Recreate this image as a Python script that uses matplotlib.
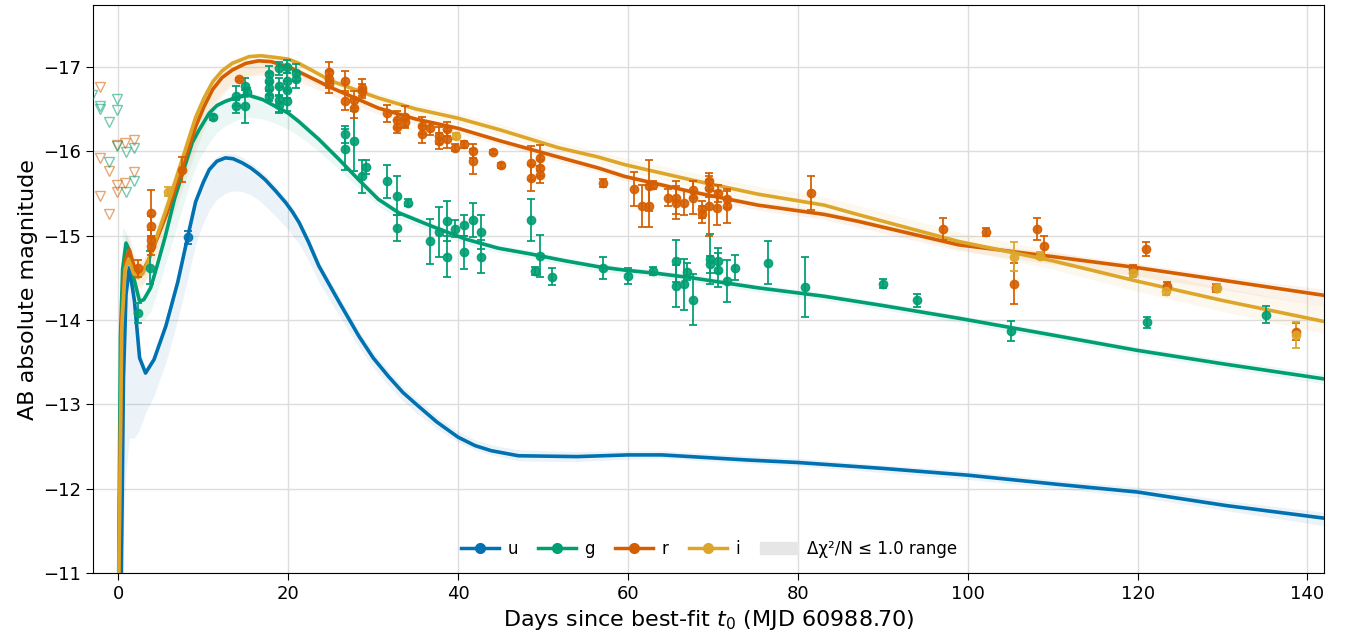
import matplotlib
matplotlib.use("Agg")
import matplotlib.pyplot as plt
from matplotlib.lines import Line2D
from matplotlib.patches import Patch
import numpy as np

# --------------------------------------------------
# COLOURS
# --------------------------------------------------
c_u = '#0072B2'
c_g = '#009E73'
c_r = '#D55E00'
c_i = '#DDA62A'

# --------------------------------------------------
# MODEL CURVES (best fit) and Δχ²/N <= 1 range edges
# --------------------------------------------------
days_u = [0.3, 0.6, 0.9, 1.3, 1.9, 2.5, 3.2, 4.2, 5.6, 7.0, 8.2, 9.1, 10.0, 10.7, 11.6,
          12.6, 13.5, 14.6, 15.6, 16.5, 17.3, 18.5, 19.7, 20.5, 21.3, 22.4, 23.6, 26.0,
          28.3, 30.0, 31.8, 33.5, 35.3, 37.5, 40.0, 42.0, 43.9, 47.1, 54.0, 60.0, 64.0,
          74.0, 80.0, 90.0, 100.0, 110.7, 120.0, 130.4, 142.0]
mag_u = [-10.5, -13.3, -14.3, -14.62, -14.22, -13.55, -13.37, -13.53, -13.93, -14.45,
         -15.0, -15.40, -15.63, -15.78, -15.88, -15.92, -15.91, -15.86, -15.80, -15.73,
         -15.66, -15.53, -15.39, -15.28, -15.15, -14.92, -14.64, -14.21, -13.81, -13.55,
         -13.33, -13.14, -12.98, -12.79, -12.61, -12.51, -12.45, -12.39, -12.38, -12.40,
         -12.40, -12.34, -12.31, -12.24, -12.16, -12.05, -11.96, -11.80, -11.65]
lo_u = [-12.0, -14.5, -15.0, -14.8, -14.3, -13.6, -13.42, -13.6, -14.0, -14.55, -15.1,
        -15.45, -15.7, -15.85, -15.94, -15.98, -15.97, -15.93, -15.86, -15.79, -15.72,
        -15.59, -15.45, -15.33, -15.2, -14.98, -14.7, -14.28, -13.88, -13.62, -13.4,
        -13.21, -13.05, -12.86, -12.68, -12.58, -12.52, -12.46, -12.44, -12.45, -12.45,
        -12.39, -12.36, -12.28, -12.21, -12.10, -12.02, -11.86, -11.72]
hi_u = [-11.0, -11.5, -12.2, -12.6, -12.6, -12.7, -12.9, -13.1, -13.5, -14.0, -14.5,
        -14.9, -15.15, -15.3, -15.43, -15.5, -15.53, -15.52, -15.48, -15.42, -15.35,
        -15.23, -15.1, -15.0, -14.9, -14.7, -14.45, -14.05, -13.68, -13.44, -13.22,
        -13.04, -12.88, -12.71, -12.55, -12.46, -12.40, -12.33, -12.32, -12.35, -12.36,
        -12.30, -12.27, -12.19, -12.11, -12.0, -11.9, -11.74, -11.56]

days_g = [0.0, 0.25, 0.5, 0.9, 1.3, 1.8, 2.5, 3.0, 3.8, 4.5, 5.5, 6.6, 7.6, 8.7, 9.5,
          10.7, 11.6, 12.6, 14.0, 15.4, 17.0, 18.5, 20.0, 21.25, 23.6, 26.0, 28.3, 30.6,
          33.0, 36.9, 40.8, 44.7, 48.6, 52.6, 56.5, 59.6, 63.5, 67.4, 75.3, 83.1,
          90.0, 98.9, 110.0, 119.9, 130.0, 142.0]
mag_g = [-10.5, -13.8, -14.6, -14.91, -14.82, -14.5, -14.22, -14.24, -14.38, -14.62,
         -14.98, -15.43, -15.75, -16.1, -16.25, -16.45, -16.54, -16.59, -16.64, -16.66,
         -16.61, -16.53, -16.45, -16.35, -16.14, -15.9, -15.66, -15.43, -15.27, -15.11,
         -14.96, -14.85, -14.78, -14.70, -14.63, -14.59, -14.55, -14.50, -14.38, -14.28,
         -14.17, -14.02, -13.82, -13.64, -13.48, -13.30]
lo_g = [-11.2, -14.3, -15.1, -15.05, -14.9, -14.6, -14.3, -14.3, -14.45, -14.7, -15.05,
        -15.5, -15.82, -16.15, -16.3, -16.5, -16.58, -16.63, -16.68, -16.7, -16.65,
        -16.57, -16.49, -16.39, -16.18, -15.94, -15.7, -15.47, -15.31, -15.15, -15.0,
        -14.89, -14.82, -14.74, -14.67, -14.63, -14.59, -14.54, -14.42, -14.32, -14.21,
        -14.06, -13.86, -13.68, -13.53, -13.36]
hi_g = [-11.0, -13.3, -14.2, -14.5, -14.4, -14.2, -14.0, -14.0, -14.1, -14.3, -14.65,
        -15.0, -15.35, -15.7, -15.9, -16.1, -16.22, -16.3, -16.37, -16.4, -16.38,
        -16.33, -16.26, -16.18, -16.0, -15.78, -15.56, -15.35, -15.2, -15.05, -14.9,
        -14.8, -14.73, -14.65, -14.58, -14.54, -14.5, -14.45, -14.33, -14.23, -14.12,
        -13.97, -13.77, -13.59, -13.43, -13.24]

days_r = [0.0, 0.4, 0.8, 1.3, 1.8, 2.3, 2.9, 3.6, 4.5, 5.6, 7.2, 9.1, 10.1, 11.1, 12.2,
          13.4, 15.0, 16.5, 18.0, 20.0, 21.25, 25.1, 30.6, 35.0, 40.0, 45.0, 51.8, 56.5,
          59.6, 67.4, 75.3, 83.1, 87.0, 98.9, 110.0, 119.9, 130.0, 142.0]
mag_r = [-10.5, -14.0, -14.7, -14.83, -14.65, -14.55, -14.58, -14.72, -14.95, -15.23,
         -15.70, -16.29, -16.53, -16.73, -16.87, -16.96, -17.04, -17.07, -17.06, -17.0,
         -16.94, -16.75, -16.51, -16.38, -16.27, -16.12, -15.93, -15.80, -15.70, -15.52,
         -15.36, -15.25, -15.17, -14.89, -14.75, -14.62, -14.47, -14.29]
lo_r = [-11.2, -14.4, -15.0, -15.0, -14.8, -14.7, -14.7, -14.85, -15.08, -15.35, -15.8,
        -16.37, -16.6, -16.8, -16.93, -17.0, -17.07, -17.1, -17.09, -17.03, -16.97,
        -16.78, -16.54, -16.41, -16.3, -16.15, -15.97, -15.84, -15.74, -15.56, -15.4,
        -15.29, -15.21, -14.93, -14.8, -14.67, -14.52, -14.36]
hi_r = [-11.0, -13.5, -14.3, -14.5, -14.4, -14.4, -14.42, -14.55, -14.75, -15.0, -15.45,
        -16.0, -16.27, -16.5, -16.66, -16.78, -16.87, -16.9, -16.9, -16.86, -16.82,
        -16.66, -16.44, -16.32, -16.21, -16.07, -15.88, -15.75, -15.65, -15.47, -15.3,
        -15.19, -15.1, -14.82, -14.66, -14.52, -14.36, -14.16]

days_i = [0.0, 0.4, 0.8, 1.2, 1.8, 2.3, 2.9, 3.6, 4.5, 5.6, 7.2, 9.1, 10.1, 11.1, 12.2,
          13.4, 15.4, 16.8, 18.5, 20.0, 21.25, 25.1, 30.6, 35.0, 40.0, 45.0, 51.8, 56.5,
          59.6, 67.4, 75.3, 83.1, 87.0, 98.9, 110.0, 119.9, 130.0, 142.0]
mag_i = [-10.5, -13.9, -14.6, -14.72, -14.55, -14.5, -14.55, -14.72, -14.98, -15.3,
         -15.8, -16.4, -16.63, -16.82, -16.95, -17.04, -17.12, -17.13, -17.11, -17.09,
         -17.04, -16.83, -16.63, -16.5, -16.39, -16.25, -16.04, -15.93, -15.84, -15.66,
         -15.49, -15.36, -15.25, -14.93, -14.70, -14.46, -14.23, -13.98]
lo_i = [-11.2, -14.3, -14.9, -14.95, -14.75, -14.65, -14.7, -14.88, -15.12, -15.45,
        -15.92, -16.5, -16.7, -16.88, -17.0, -17.08, -17.15, -17.16, -17.14, -17.12,
        -17.08, -16.88, -16.68, -16.56, -16.45, -16.32, -16.11, -16.0, -15.92, -15.75,
        -15.58, -15.46, -15.36, -15.04, -14.82, -14.6, -14.38, -14.16]
hi_i = [-11.0, -13.4, -14.2, -14.45, -14.35, -14.35, -14.4, -14.55, -14.8, -15.1,
        -15.55, -16.1, -16.35, -16.55, -16.7, -16.8, -16.9, -16.93, -16.93, -16.92,
        -16.88, -16.72, -16.53, -16.42, -16.32, -16.18, -15.97, -15.86, -15.77, -15.58,
        -15.4, -15.27, -15.16, -14.84, -14.6, -14.34, -14.1, -13.84]

# --------------------------------------------------
# PHOTOMETRY (days, mag, err)
# --------------------------------------------------
t_u = [8.2]
m_u = [-14.98]
e_u = [0.075]

t_g = [2.27, 3.76, 11.2, 13.8, 13.8, 14.9, 14.9, 15.2, 17.7, 17.7, 17.7, 17.7,
       18.9, 18.9, 18.9, 18.9, 19.9, 19.9, 19.9, 19.9, 20.9, 20.9, 26.7, 26.7,
       27.7, 28.7, 29.1, 31.6, 32.8, 32.8, 34.1, 36.7, 37.8, 38.7, 38.7, 39.6,
       40.7, 40.7, 41.7, 42.7, 42.7, 48.6, 49.0, 49.6, 51.1, 57.1, 60.0, 62.9,
       65.6, 65.6, 66.65, 66.9, 67.6, 69.6, 69.6, 70.6, 70.6, 71.6, 72.6, 76.5,
       80.8, 90.0, 94.0, 105.1, 121.1, 135.1]
m_g = [-14.08, -14.62, -16.40, -16.65, -16.53, -16.77, -16.53, -16.70, -16.91, -16.83,
       -16.75, -16.65, -16.98, -16.77, -16.61, -16.55, -17.0, -16.83, -16.73, -16.59,
       -16.93, -16.85, -16.02, -16.20, -16.12, -15.70, -15.81, -15.64, -15.47, -15.09,
       -15.39, -14.93, -15.04, -15.17, -14.75, -15.08, -15.12, -14.80, -15.18, -15.04,
       -14.75, -15.18, -14.58, -14.76, -14.51, -14.62, -14.52, -14.58, -14.70, -14.40,
       -14.42, -14.57, -14.24, -14.72, -14.66, -14.70, -14.59, -14.46, -14.62, -14.68,
       -14.39, -14.43, -14.23, -13.87, -13.97, -14.06]
e_g = [0.12, 0.2, 0.03, 0.12, 0.08, 0.1, 0.2, 0.05, 0.1, 0.1, 0.08, 0.06,
       0.08, 0.1, 0.15, 0.1, 0.08, 0.1, 0.1, 0.12, 0.1, 0.1, 0.24, 0.1,
       0.36, 0.2, 0.08, 0.2, 0.23, 0.15, 0.04, 0.27, 0.3, 0.24, 0.24, 0.1,
       0.12, 0.2, 0.2, 0.2, 0.2, 0.25, 0.05, 0.25, 0.1, 0.13, 0.1, 0.05,
       0.25, 0.25, 0.3, 0.1, 0.3, 0.3, 0.1, 0.15, 0.2, 0.25, 0.15, 0.25,
       0.36, 0.05, 0.08, 0.12, 0.07, 0.1]

t_r = [2.27, 3.8, 3.8, 3.8, 3.8, 7.5, 14.2, 24.8, 24.8, 24.8, 26.65, 26.65, 27.7,
       27.7, 28.7, 28.7, 31.6, 32.8, 32.8, 33.8, 33.8, 35.7, 35.7, 36.7, 37.7, 37.7,
       38.7, 38.7, 39.6, 40.7, 41.7, 41.7, 44.1, 45.0, 48.6, 48.6, 49.7, 49.7, 49.7,
       57.1, 60.7, 61.7, 62.5, 62.5, 62.9, 64.7, 65.6, 65.6, 66.65, 67.6, 67.6, 68.7,
       68.7, 69.5, 69.5, 69.5, 70.5, 70.6, 71.7, 71.7, 81.6, 97.1, 102.1, 105.4,
       108.1, 109.0, 119.4, 121.0, 123.5, 129.2, 138.6]
m_r = [-14.61, -15.27, -15.11, -14.95, -14.87, -15.78, -16.85, -16.94, -16.85, -16.79,
       -16.83, -16.59, -16.61, -16.51, -16.75, -16.71, -16.45, -16.37, -16.29, -16.41,
       -16.35, -16.30, -16.20, -16.27, -16.18, -16.12, -16.26, -16.14, -16.04, -16.08,
       -16.00, -15.88, -15.99, -15.83, -15.86, -15.68, -15.92, -15.80, -15.72, -15.62,
       -15.55, -15.35, -15.59, -15.35, -15.60, -15.45, -15.45, -15.39, -15.39, -15.54,
       -15.45, -15.31, -15.25, -15.64, -15.56, -15.35, -15.33, -15.50, -15.43, -15.35,
       -15.50, -15.08, -15.04, -14.43, -15.08, -14.88, -14.60, -14.84, -14.40, -14.38,
       -13.86]
e_r = [0.1, 0.27, 0.12, 0.12, 0.1, 0.15, 0.02, 0.12, 0.1, 0.1, 0.12, 0.1, 0.1,
       0.12, 0.1, 0.08, 0.1, 0.1, 0.08, 0.12, 0.08, 0.1, 0.1, 0.08, 0.1, 0.1,
       0.08, 0.1, 0.04, 0.04, 0.08, 0.15, 0.02, 0.03, 0.2, 0.15, 0.15, 0.1, 0.1,
       0.05, 0.2, 0.25, 0.3, 0.25, 0.05, 0.1, 0.2, 0.2, 0.15, 0.1, 0.2, 0.1,
       0.1, 0.1, 0.1, 0.35, 0.2, 0.1, 0.1, 0.2, 0.2, 0.13, 0.05, 0.24,
       0.13, 0.12, 0.05, 0.08, 0.05, 0.05, 0.1]

t_i = [5.9, 39.7, 105.4, 108.5, 119.4, 123.4, 129.3, 138.6]
m_i = [-15.52, -16.18, -14.75, -14.76, -14.56, -14.34, -14.38, -13.82]
e_i = [0.05, 0.04, 0.17, 0.04, 0.05, 0.05, 0.05, 0.15]

# upper limits (non-detections)
lim_t_g = [-3.09, -2.15, -2.15, -1.14, -1.14, -0.2, -0.2, -0.2, 0.9, 0.9, 1.84, 1.84]
lim_m_g = [-16.66, -16.54, -16.50, -16.34, -15.87, -16.62, -16.49, -16.06, -15.99,
           -15.52, -16.04, -15.64]
lim_t_r = [-2.15, -2.15, -2.15, -1.14, -1.14, -0.2, -0.2, -0.2, 0.82, 0.82, 1.84, 1.84]
lim_m_r = [-16.76, -15.92, -15.47, -15.76, -15.25, -16.07, -15.60, -15.51, -16.10,
           -15.62, -16.13, -15.75]

# --------------------------------------------------
# PLOT
# --------------------------------------------------
fig = plt.figure(figsize=(13.46, 6.41), dpi=100)
ax = fig.add_axes([0.069, 0.106, 0.915, 0.886])

models = [
    (days_u, mag_u, lo_u, hi_u, c_u),
    (days_g, mag_g, lo_g, hi_g, c_g),
    (days_r, mag_r, lo_r, hi_r, c_r),
    (days_i, mag_i, lo_i, hi_i, c_i),
]

for d, m, lo, hi, c in models:
    ax.fill_between(d, lo, hi, color=c, alpha=0.08, lw=0, zorder=2)
for d, m, lo, hi, c in models:
    ax.plot(d, m, color=c, lw=2.6, zorder=3, solid_joinstyle='round')

ax.plot(lim_t_r, lim_m_r, 'v', mfc='none', mec=c_r, ms=7.5, mew=1.0, alpha=0.55, zorder=4)
ax.plot(lim_t_g, lim_m_g, 'v', mfc='none', mec=c_g, ms=7.5, mew=1.0, alpha=0.55, zorder=4)

for t, m, e, c in [(t_u, m_u, e_u, c_u), (t_g, m_g, e_g, c_g),
                   (t_r, m_r, e_r, c_r), (t_i, m_i, e_i, c_i)]:
    ax.errorbar(t, m, yerr=e, fmt='o', color=c, ms=6, elinewidth=1.4,
                capsize=3, capthick=1.4, alpha=0.9, zorder=5)

ax.set_xlim(-3, 142)
ax.set_ylim(-11, -17.73)
ax.set_xticks(np.arange(0, 141, 20))
ax.set_yticks([-11, -12, -13, -14, -15, -16, -17])
ax.tick_params(labelsize=13, length=5)
ax.grid(True, color='#dddddd', lw=1.0)
ax.set_axisbelow(True)

ax.set_xlabel('Days since best-fit $t_0$ (MJD 60988.70)', fontsize=16)
ax.set_ylabel('AB absolute magnitude', fontsize=16)

handles = [
    Line2D([], [], color=c_u, lw=2.5, marker='o', ms=7),
    Line2D([], [], color=c_g, lw=2.5, marker='o', ms=7),
    Line2D([], [], color=c_r, lw=2.5, marker='o', ms=7),
    Line2D([], [], color=c_i, lw=2.5, marker='o', ms=7),
    Patch(color='#e6e6e6'),
]
labels = ['u', 'g', 'r', 'i', 'Δχ²/N ≤ 1.0 range']
ax.legend(handles, labels, loc='lower center', ncol=5, frameon=False,
          fontsize=12, handlelength=2.3, handletextpad=0.5, columnspacing=1.2,
          bbox_to_anchor=(0.5, 0.0))

fig.savefig('out.png', dpi=100)
